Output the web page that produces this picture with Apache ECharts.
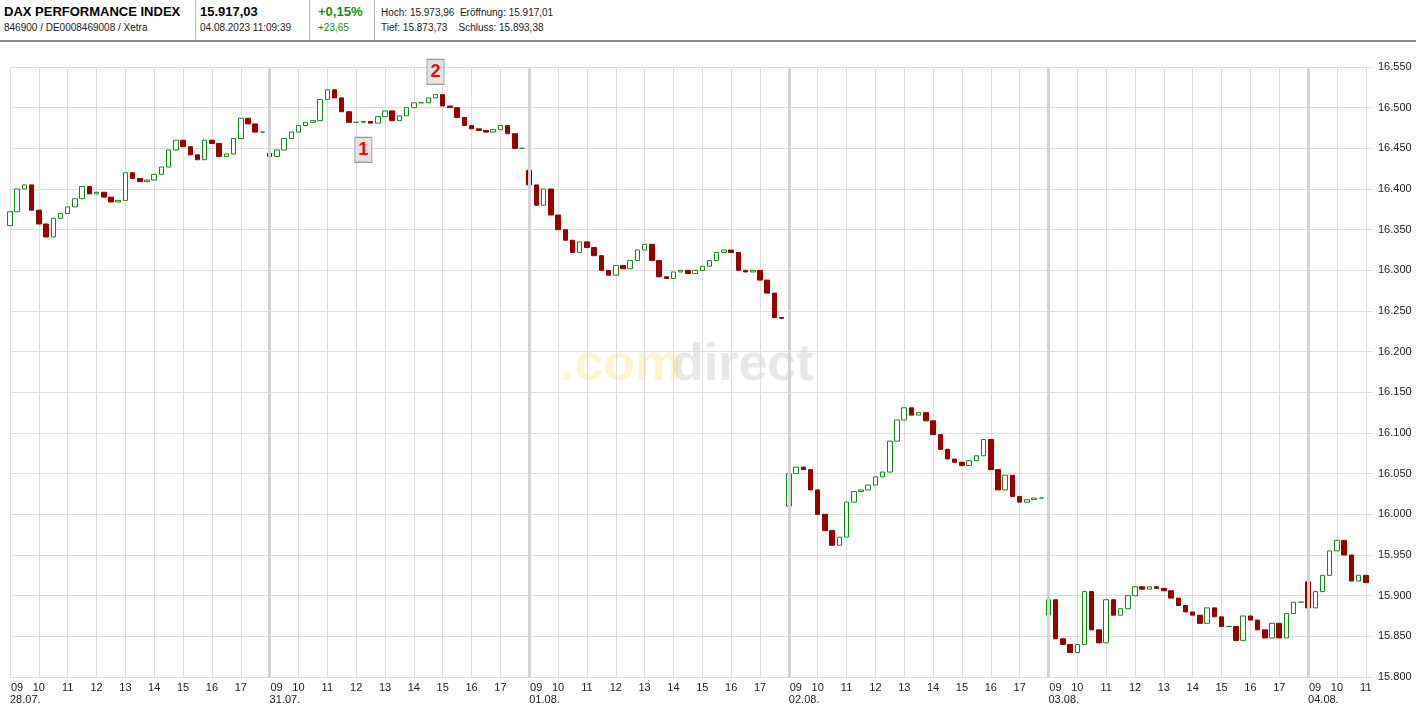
<!DOCTYPE html>
<html><head><meta charset="utf-8">
<script src="https://cdn.jsdelivr.net/npm/echarts@6/dist/echarts.min.js"></script>
<style>
html,body{margin:0;padding:0;background:#fff;font-family:"Liberation Sans",Arial,sans-serif;}
#c{position:absolute;left:0;top:0;width:1416px;height:704px;}
#hdr{position:absolute;left:0;top:0;width:1416px;height:40px;border-bottom:2px solid #888;background:#fff;z-index:2;}
.cell{position:absolute;top:0;height:40px;border-right:1px solid #bbb;}
.b{font-weight:bold;font-size:13px;color:#000;position:absolute;top:4px;}
.s{font-size:10px;color:#222;position:absolute;top:22px;white-space:nowrap;}
</style></head><body>
<div id="hdr">
 <div class="cell" style="left:0;width:195px"><div class="b" style="left:4px">DAX PERFORMANCE INDEX</div><div class="s" style="left:4px">846900 / DE0008469008 / Xetra</div></div>
 <div class="cell" style="left:196px;width:113px"><div class="b" style="left:4px">15.917,03</div><div class="s" style="left:4px">04.08.2023 11:09:39</div></div>
 <div class="cell" style="left:310px;width:64px"><div class="b" style="left:8px;color:#109010">+0,15%</div><div class="s" style="left:8px;color:#109010">+23,65</div></div>
 <div style="position:absolute;left:381px;top:0"><div class="s" style="top:7px;left:0">Hoch: 15.973,96&nbsp; Eröffnung: 15.917,01</div><div class="s" style="left:0">Tief: 15.873,73&nbsp;&nbsp;&nbsp; Schluss: 15.893,38</div></div>
</div>
<div id="c"></div>
<script>
const days = ["28.07.","31.07.","01.08.","02.08.","03.08.","04.08."];
const dayOpens = [16355,16444,16423,16010,15876,15917];
const closes1 = [16372,16400,16405,16374,16357,16341,16364,16370,16378,16388,16403,16394,16396,16390,16384,16386,16420,16413,16409,16411,16418,16427,16448,16460,16452,16442,16436,16460,16456,16440,16443,16462,16487,16480,16470,16470];
const closes2 = [16440,16448,16462,16470,16478,16482,16484,16510,16522,16512,16495,16482,16482,16483,16481,16489,16496,16484,16490,16500,16506,16506,16512,16516,16502,16500,16488,16478,16474,16472,16470,16473,16478,16468,16450,16450];
const closes3 = [16405,16380,16400,16368,16350,16337,16322,16335,16328,16318,16300,16294,16306,16302,16312,16325,16332,16312,16292,16290,16298,16300,16296,16300,16305,16312,16322,16325,16322,16300,16298,16300,16288,16272,16242,16241];
const closes4 = [16050,16058,16055,16030,16000,15980,15962,15972,16015,16028,16030,16036,16046,16052,16090,16116,16131,16122,16125,16115,16098,16080,16068,16064,16060,16066,16072,16092,16055,16030,16048,16022,16015,16018,16020,16020];
const closes5 = [15895,15847,15840,15830,15840,15905,15858,15842,15895,15876,15884,15900,15911,15908,15911,15909,15906,15897,15888,15880,15876,15866,15885,15874,15862,15862,15845,15875,15870,15858,15848,15866,15848,15878,15892,15892];
const closes6 = [15885,15905,15925,15955,15968,15950,15918,15925,15916];
const yTicks = {min:15800,max:16550,interval:50};
const markers = [{label:"1",day:1,slot:13,value:16448},{label:"2",day:1,slot:23,value:16544}];

const allCloses=[closes1,closes2,closes3,closes4,closes5,closes6];
const cats=[], ohlc=[];
const slotsPerDay=36;
allCloses.forEach((arr,d)=>{
  let prev=dayOpens[d];
  for(let k=0;k<slotsPerDay;k++){
    const h=9+Math.floor(k/4), m=(k%4)*15;
    cats.push(d+"|"+String(h).padStart(2,"0")+":"+String(m).padStart(2,"0"));
    if(k<arr.length){
      const c=arr[k];
      ohlc.push([prev,c,Math.min(prev,c),Math.max(prev,c)]);
      prev=c;
    } else ohlc.push('-');
  }
});
const total=5*slotsPerDay+10;
cats.length=total; ohlc.length=total;
const isHour=(i)=>cats[i] && cats[i].endsWith(":00");
const isDay=(i)=>cats[i] && cats[i].endsWith("09:00");
const fmt=v=>String(v).replace(/\B(?=(\d{3})+(?!\d))/g,".");
const dayLines=[1,2,3,4,5].map(d=>({xAxis:cats[d*slotsPerDay]}));

const chart=echarts.init(document.getElementById('c'));
chart.setOption({
  animation:false,
  grid:{left:10,right:43,top:67,bottom:27,containLabel:false,outerBoundsMode:'none'},
  graphic:[{type:'group',children:[
    {type:'text',style:{text:'.com',font:'bold 52px "Liberation Sans",Arial',fill:'rgba(250,225,120,0.35)'}, x:0},
    {type:'text',style:{text:'direct',font:'bold 52px "Liberation Sans",Arial',fill:'rgba(180,180,180,0.3)'}, x:112}
  ],x:560,y:340}],
  xAxis:[{type:'category',data:cats,boundaryGap:false,
    axisLine:{show:false},axisTick:{show:false},
    splitLine:{show:true,interval:(i)=>isHour(i),lineStyle:{color:'#dedede',width:1}},
    axisLabel:{interval:(i)=>isHour(i),showMinLabel:true,color:'#222',fontSize:11,margin:5,
      rich:{l:{padding:[0,0,0,14],fontSize:11,color:'#222'}},
      formatter:(v)=>{const h=v.split("|")[1].slice(0,2);return h==="09"?"{l|09}":h;}}},
   {type:'category',data:cats,boundaryGap:false,position:'bottom',offset:12,
    axisLine:{show:false},axisTick:{show:false},splitLine:{show:false},
    axisLabel:{interval:(i)=>isDay(i),showMinLabel:true,align:'left',color:'#222',fontSize:11,margin:5,
      formatter:(v)=>days[+v.split("|")[0]]}}],
  yAxis:{type:'value',position:'right',min:yTicks.min,max:yTicks.max,interval:yTicks.interval,
    axisLine:{show:false},axisTick:{show:false},
    splitLine:{lineStyle:{color:'#dedede'}},
    axisLabel:{color:'#222',fontSize:11,margin:5,formatter:fmt}},
  series:[{type:'candlestick',data:ohlc,barWidth:5,
    itemStyle:{color:'#ffffff',color0:'#990000',borderColor:'#108a10',borderColor0:'#990000',borderWidth:1},
    markLine:{silent:true,symbol:'none',label:{show:false},lineStyle:{color:'#d4d4d4',width:3,type:'solid'},data:dayLines},
    markPoint:{symbol:'rect',symbolSize:[17,25],
      itemStyle:{color:'#e2e2e2',borderColor:'#999',borderWidth:1},
      label:{show:true,color:'#ff0000',fontWeight:'bold',fontSize:18,formatter:p=>p.name},
      data:markers.map(m=>({name:m.label,coord:[cats[m.day*slotsPerDay+m.slot],m.value]}))}
  }]
});
</script></body></html>
